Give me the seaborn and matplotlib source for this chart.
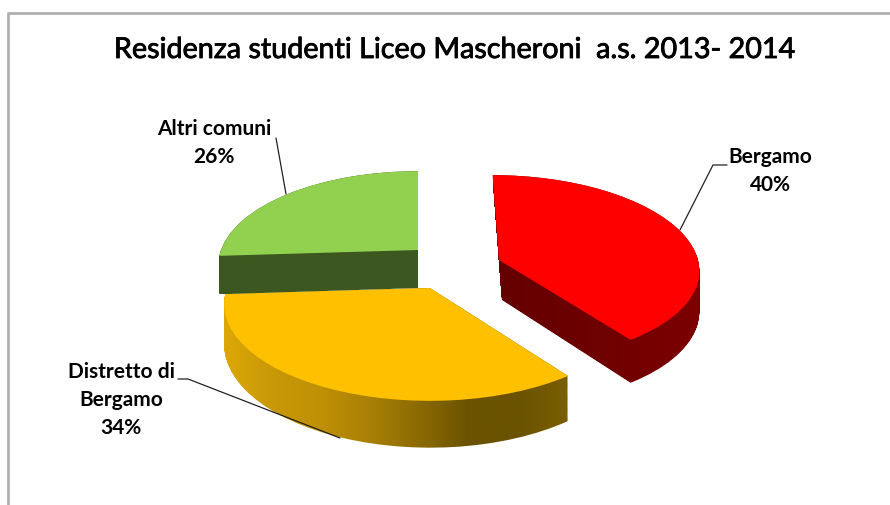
import numpy as np
import matplotlib
matplotlib.use('Agg')
import matplotlib.pyplot as plt
import matplotlib.patheffects as pe
import seaborn as sns
from matplotlib.colors import LinearSegmentedColormap
from matplotlib.patches import PathPatch, Polygon
from matplotlib.path import Path

# dati
categorie = ['Bergamo', 'Distretto di\nBergamo', 'Altri comuni']
percentuali = [40, 34, 26]
colori = ['#ff0000', '#ffc000', '#92d050']
colori_lato = [
    ['#640000', '#6e0000', '#7c0000'],
    ['#dca808', '#c89807', '#bf9006', '#a87f05', '#8a6a03', '#6a5200', '#6a5200', '#7a5e00'],
    ['#3d5720', '#3d5720'],
]

# posizione e prospettiva delle fette, in pixel
apici = [(499, 260), (430, 288), (418, 250)]
scala_x = [199, 203, 197]
scala_y = [92, 94, 92]
inclina = [-7, 0, 0]
prosp = [0.084, 0.167, 0.167]
spessore = [40, 39, 38]

sns.set_theme(style='white')
plt.rcParams['font.family'] = ['Lato', 'DejaVu Sans']

fig = plt.figure(figsize=(8.9, 5.05), dpi=100)
ax = fig.add_axes([0, 0, 1, 1])

# il pie fornisce i settori, poi vengono messi in prospettiva
wedges, _ = ax.pie(percentuali, startangle=90, counterclock=False, radius=100)
settori = [w.get_path().to_polygons()[0] / 100 for w in wedges]
for w in wedges:
    w.remove()


def proietta(poli, i, t=0.0):
    f = 1 / (1 + prosp[i] * poli[:, 1])
    x = apici[i][0] + (scala_x[i] * poli[:, 0] + inclina[i] * poli[:, 1]) * f
    y = apici[i][1] - scala_y[i] * poli[:, 1] * f + spessore[i] * t * f
    # sul taglio inclinato il lato segue il bordo, cosi non sporge a sinistra
    x = x - inclina[i] / scala_y[i] * spessore[i] * t * np.clip(1 - poli[:, 0] / 0.15, 0, 1)
    return np.column_stack([x, y])


for i in [2, 0, 1]:
    # lato estruso con sfumatura
    strati = [proietta(settori[i], i, t) for t in np.linspace(0, 1, 50)]
    path = Path.make_compound_path(*[Path(s, closed=True) for s in strati])
    tutti = np.vstack(strati)
    x0, x1 = tutti[:, 0].min(), tutti[:, 0].max()
    y0, y1 = tutti[:, 1].min(), tutti[:, 1].max()
    cmap = LinearSegmentedColormap.from_list('lato', colori_lato[i])
    img = ax.imshow(np.linspace(0, 1, 256)[None, :], extent=(x0, x1, y1, y0),
                    aspect='auto', cmap=cmap, zorder=i + 2)
    img.set_clip_path(PathPatch(path, transform=ax.transData))
    # faccia superiore
    ax.add_patch(Polygon(proietta(settori[i], i), closed=True, facecolor=colori[i],
                         edgecolor='none', zorder=i + 2.5))

ax.set_xlim(0, 890)
ax.set_ylim(505, 0)
ax.set_aspect('auto')
ax.axis('off')

# cornice
ax.plot([8, 8, 890], [505, 13, 13], color='#b0b0b0', lw=2, zorder=1)

# titolo
ax.text(455, 50, 'Residenza studenti Liceo Mascheroni  a.s. 2013- 2014', fontsize=20.7,
        ha='center', va='center', color='black', zorder=10,
        path_effects=[pe.withStroke(linewidth=0.6, foreground='black')])

# etichette
pos_testo = [(770, 171), (121, 400), (214, 143)]
for nome, val, (tx, ty) in zip(categorie, percentuali, pos_testo):
    ax.text(tx, ty, f'{nome}\n{val}%', fontsize=15, fontweight='bold', ha='center',
            va='center', linespacing=1.5, color='black', zorder=10)

# linee guida
ax.plot([727, 713, 680], [165, 165, 230], color='#222222', lw=0.9, zorder=9)
ax.plot([276, 286], [138, 194], color='#222222', lw=0.9, zorder=9)
ax.plot([178, 188, 340], [379, 379, 438], color='#222222', lw=0.9, zorder=9)

fig.savefig('out.png', dpi=100)
